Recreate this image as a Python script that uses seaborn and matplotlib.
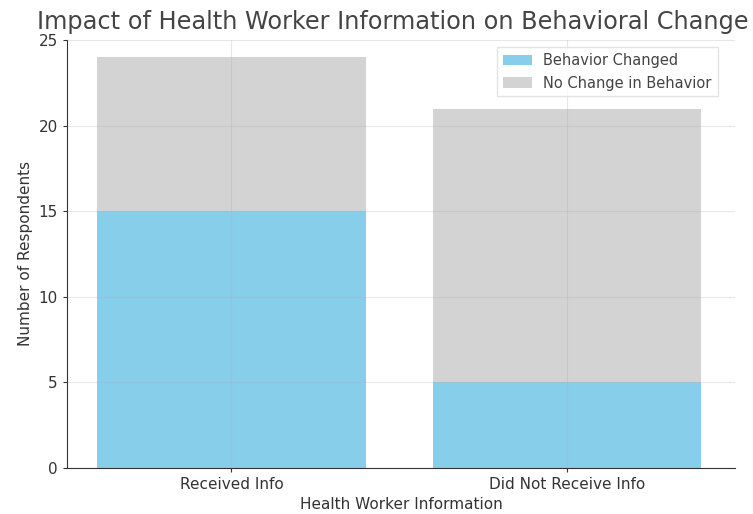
import matplotlib
matplotlib.use("Agg")
import matplotlib.pyplot as plt
import seaborn as sns
import pandas as pd
import numpy as np

categories = ["Received Info", "Did Not Receive Info"]
behavior_changed = [15, 5]
no_change = [9, 16]

df = pd.DataFrame({
    "group": categories,
    "changed": behavior_changed,
    "no_change": no_change,
})
df["total"] = df["changed"] + df["no_change"]

sns.set_style("ticks")
plt.rcParams["font.family"] = ["DejaVu Sans"]

fig = plt.figure(figsize=(7.53, 5.14), dpi=100)
ax = fig.add_axes([0.089, 0.09, 0.887, 0.832])

# Stacked bars: full height in grey, changed portion in blue on top
sns.barplot(data=df, x="group", y="total", color="#D3D3D3", saturation=1,
            width=0.8, linewidth=0, label="No Change in Behavior", ax=ax)
sns.barplot(data=df, x="group", y="changed", color="#87CEEB", saturation=1,
            width=0.8, linewidth=0, label="Behavior Changed", ax=ax)

ax.set_xlim(-0.49, 1.5)
ax.set_ylim(0, 25)
ax.set_yticks([0, 5, 10, 15, 20, 25])
ax.set_axisbelow(False)
ax.grid(True, color="#b0b0b0", alpha=0.3, linewidth=0.8)
for s in ["top", "right"]:
    ax.spines[s].set_visible(False)
ax.spines["left"].set_color("#333333")
ax.spines["bottom"].set_color("#333333")
ax.tick_params(labelsize=11, colors="#333333", length=3)

ax.set_title("Impact of Health Worker Information on Behavioral Change",
             fontsize=17.3, color="#444444", pad=8, x=0.487)
ax.set_xlabel("Health Worker Information", fontsize=11, color="#333333")
ax.set_ylabel("Number of Respondents", fontsize=11, color="#333333")

handles, labels = ax.get_legend_handles_labels()
order = [labels.index("Behavior Changed"), labels.index("No Change in Behavior")]
ax.legend([handles[i] for i in order], [labels[i] for i in order],
          loc="upper right", bbox_to_anchor=(0.985, 1.0),
          fontsize=10.5, frameon=True, fancybox=False,
          edgecolor="#dddddd", labelcolor="#444444")

fig.savefig("out.png", dpi=100)
